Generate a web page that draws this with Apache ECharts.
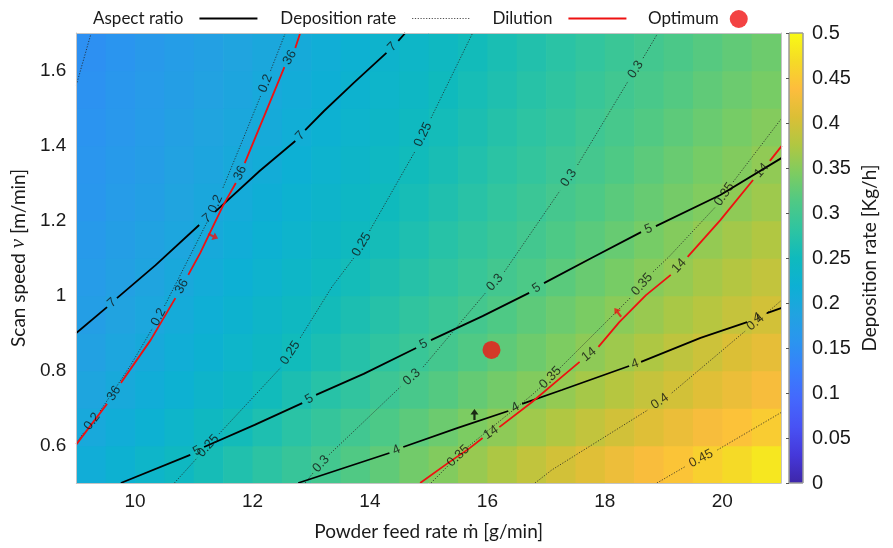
<!DOCTYPE html>
<html><head><meta charset="utf-8">
<script src="https://cdn.jsdelivr.net/npm/echarts@6/dist/echarts.min.js"></script>
<style>html,body{margin:0;padding:0;background:#fff}#c{width:893px;height:548px}</style>
</head><body><div id="c"></div>
<script>
// ---------------- data ----------------
const xTicks = [10, 12, 14, 16, 18, 20];
const yTicks = [0.6, 0.8, 1, 1.2, 1.4, 1.6];

// background field: deposition rate [kg/h] at cell centres
const heatX = [9.25,9.75,10.25,10.75,11.25,11.75,12.25,12.75,13.25,13.75,14.25,14.75,15.25,15.75,16.25,16.75,17.25,17.75,18.25,18.75,19.25,19.75,20.25,20.75];
const heatV = [0.55,0.65,0.75,0.85,0.95,1.05,1.15,1.25,1.35,1.45,1.55,1.65];
const r055 = [0.212,0.223,0.234,0.245,0.257,0.268,0.279,0.290,0.301,0.313,0.324,0.336,0.347,0.360,0.373,0.387,0.400,0.411,0.423,0.434,0.445,0.457,0.468,0.480];
const r065 = [0.201,0.212,0.222,0.233,0.244,0.254,0.265,0.277,0.288,0.299,0.310,0.321,0.332,0.343,0.354,0.365,0.376,0.388,0.399,0.410,0.421,0.432,0.443,0.453];
const r075 = [0.192,0.202,0.212,0.222,0.232,0.242,0.252,0.263,0.274,0.284,0.295,0.306,0.316,0.327,0.337,0.347,0.358,0.369,0.379,0.390,0.400,0.411,0.421,0.432];
const r085 = [0.184,0.194,0.203,0.213,0.223,0.233,0.242,0.252,0.262,0.272,0.282,0.292,0.302,0.313,0.323,0.333,0.344,0.354,0.364,0.374,0.385,0.395,0.406,0.416];
const r095 = [0.177,0.187,0.196,0.206,0.216,0.225,0.235,0.244,0.254,0.263,0.273,0.283,0.292,0.302,0.312,0.322,0.332,0.342,0.352,0.361,0.371,0.380,0.390,0.400];
const r105 = [0.172,0.181,0.191,0.200,0.209,0.218,0.227,0.237,0.246,0.255,0.264,0.273,0.282,0.291,0.301,0.310,0.320,0.330,0.340,0.350,0.359,0.369,0.378,0.388];
const r115 = [0.168,0.177,0.186,0.194,0.203,0.212,0.221,0.230,0.239,0.247,0.256,0.265,0.274,0.283,0.292,0.301,0.311,0.320,0.329,0.339,0.348,0.358,0.367,0.376];
const r125 = [0.163,0.172,0.180,0.189,0.198,0.206,0.215,0.224,0.232,0.241,0.250,0.258,0.267,0.276,0.285,0.294,0.303,0.311,0.320,0.329,0.338,0.346,0.355,0.364];
const r135 = [0.160,0.168,0.176,0.185,0.193,0.202,0.210,0.218,0.227,0.235,0.243,0.252,0.260,0.269,0.278,0.286,0.295,0.303,0.312,0.321,0.330,0.339,0.347,0.356];
const r145 = [0.156,0.164,0.172,0.181,0.189,0.197,0.205,0.213,0.222,0.230,0.238,0.246,0.255,0.263,0.272,0.280,0.288,0.297,0.305,0.314,0.322,0.331,0.339,0.348];
const r155 = [0.154,0.162,0.170,0.178,0.185,0.193,0.201,0.209,0.217,0.225,0.233,0.241,0.250,0.258,0.266,0.274,0.282,0.291,0.299,0.307,0.315,0.324,0.332,0.340];
const r165 = [0.151,0.159,0.167,0.174,0.182,0.189,0.197,0.205,0.213,0.221,0.229,0.237,0.245,0.253,0.261,0.269,0.277,0.285,0.293,0.301,0.309,0.317,0.325,0.333];
const heatRows = [r055,r065,r075,r085,r095,r105,r115,r125,r135,r145,r155,r165];

// contour polylines [feed rate, scan speed]; a string marks a label sitting in the gap
const aspect7 = [
  [[9.000,0.900],[9.523,0.969]], '7',
  [[9.692,0.993],[10.350,1.081],[11.092,1.188]], '7',
  [[11.362,1.223],[12.121,1.332],[12.729,1.412]], '7',
  [[12.897,1.441],[13.218,1.492],[13.724,1.567],[14.281,1.647]], '7',
  [[14.483,1.679],[14.602,1.700]]
];
const aspect5 = [
  [[9.759,0.500],[10.940,0.575]], '5',
  [[11.176,0.596],[12.037,0.655],[12.847,0.713]], '5',
  [[13.083,0.735],[13.893,0.791],[14.787,0.860]], '5',
  [[15.040,0.881],[15.918,0.945],[16.711,1.007]], '5',
  [[16.964,1.033],[17.773,1.100],[18.617,1.169]], '5',
  [[18.870,1.185],[19.967,1.268],[21.013,1.367]]
];
const aspect4 = [
  [[12.779,0.500],[13.555,0.540],[14.332,0.580]], '4',
  [[14.568,0.596],[15.496,0.647],[16.356,0.692]], '4',
  [[16.592,0.711],[17.267,0.748],[18.414,0.812]], '4',
  [[18.617,0.823],[19.630,0.887],[20.423,0.929]], '4',
  [[20.760,0.953],[21.013,0.967]]
];
const dilution36 = [
  [[9.000,0.603],[9.523,0.711]], '36',
  [[9.759,0.767],[10.265,0.881],[10.687,0.993]], '36',
  [[10.907,1.055],[11.109,1.113],[11.379,1.201],[11.497,1.239],[11.716,1.300]], '36',
  [[11.868,1.353],[12.206,1.481],[12.543,1.609]], '36',
  [[12.729,1.660],[12.813,1.700]]
];
const dilution14 = [
  [[14.855,0.500],[15.327,0.553],[15.698,0.593],[15.918,0.620]], '14',
  [[16.204,0.649],[16.761,0.716],[17.267,0.783],[17.571,0.823]], '14',
  [[17.891,0.863],[18.246,0.929],[18.701,1.001],[19.123,1.055]], '14',
  [[19.410,1.103],[19.967,1.201],[20.524,1.308]], '14',
  [[20.811,1.359],[21.013,1.399]]
];
const dep015 = [
  [[9.000,1.561],[9.253,1.700]]
];
const dep020 = [
  [[9.000,0.607],[9.135,0.636]], '0.2',
  [[9.405,0.692],[9.591,0.735],[9.928,0.815],[10.299,0.913]], '0.2',
  [[10.502,0.972],[10.856,1.081],[11.244,1.201]], '0.2',
  [[11.497,1.287],[11.834,1.415],[12.138,1.532]], '0.2',
  [[12.307,1.599],[12.560,1.700]]
];
const dep025 = [
  [[10.670,0.500],[11.058,0.567]], '0.25',
  [[11.430,0.631],[12.476,0.807]], '0.25',
  [[12.813,0.887],[13.353,1.023],[13.724,1.100]], '0.25',
  [[13.994,1.172],[14.770,1.385]], '0.25',
  [[15.040,1.473],[15.749,1.700]]
];
const dep030 = [
  [[12.897,0.500],[13.032,0.527]], '0.3',
  [[13.302,0.575],[14.517,0.756]], '0.3',
  [[14.905,0.809],[15.968,1.007]], '0.3',
  [[16.289,1.063],[16.542,1.121],[17.234,1.279]], '0.3',
  [[17.537,1.348],[18.398,1.572]], '0.3',
  [[18.651,1.633],[18.904,1.700]]
];
const dep035 = [
  [[15.040,0.500],[15.344,0.548]], '0.35',
  [[15.664,0.596],[16.761,0.735],[16.947,0.761]], '0.35',
  [[17.200,0.801],[18.448,0.996]], '0.35',
  [[18.820,1.063],[19.090,1.103],[19.883,1.236]], '0.35',
  [[20.186,1.303],[21.013,1.473]]
];
const dep040 = [
  [[16.812,0.500],[17.099,0.535],[18.735,0.695]], '0.4',
  [[19.140,0.740],[20.389,0.905]], '0.4',
  [[20.743,0.951],[21.013,0.988]]
];
const dep045 = [
  [[18.887,0.500],[19.360,0.543]], '0.45',
  [[19.916,0.588],[21.013,0.689]]
];
const optimum = [[16.07, 0.855]];
const redArrows = [[11.33, 1.158], [18.22, 0.955]];
const blackArrows = [[15.78, 0.683]];

// ---------------- styles ----------------
const PARULA = ['#3E26A8','#4538DA','#4852F4','#4468FD','#387EFC','#2B94F0','#21A3E0','#0DB0D4',
  '#0FBABD','#2EC4A1','#4FC985','#7DCC61','#B0C742','#DBBF36','#FDBD3D','#F5DB26','#F9FB14'];
const F_TXT = "Lato, 'Open Sans', sans-serif";
const F_NUM = "'Liberation Sans', Arial, sans-serif";
const TXT = '#1a1a1a';
const STY = {
  aspect: {color:'#000', width:1.8, type:'solid'},
  dep: {color:'#222', width:0.8, type:[1.2, 1.6]},
  dil: {color:'#ee1111', width:1.8, type:'solid'}
};
const ARROW = 'path://M0,0 L5,6 L1.4,6 L1.4,12 L-1.4,12 L-1.4,6 L-5,6 Z';

const contours = [
  {p: aspect7, name:'Aspect ratio', s: STY.aspect},
  {p: aspect5, name:'Aspect ratio', s: STY.aspect},
  {p: aspect4, name:'Aspect ratio', s: STY.aspect},
  {p: dep015, name:'Deposition rate', s: STY.dep},
  {p: dep020, name:'Deposition rate', s: STY.dep},
  {p: dep025, name:'Deposition rate', s: STY.dep},
  {p: dep030, name:'Deposition rate', s: STY.dep},
  {p: dep035, name:'Deposition rate', s: STY.dep},
  {p: dep040, name:'Deposition rate', s: STY.dep},
  {p: dep045, name:'Deposition rate', s: STY.dep},
  {p: dilution36, name:'Dilution', s: STY.dil},
  {p: dilution14, name:'Dilution', s: STY.dil}
];

// ---------------- build ----------------
const heatData = [];
heatRows.forEach((row, j) => row.forEach((val, i) => heatData.push([heatX[i], heatV[j], val])));
const hdx = (heatX[1] - heatX[0]) / 2, hdv = (heatV[1] - heatV[0]) / 2;

const series = [];
series.push({
  type:'custom', name:'field', xAxisIndex:0, yAxisIndex:0, data: heatData, z:1, silent:true, clip:true,
  encode:{x:0, y:1},
  renderItem: (params, api) => {
    const x = api.value(0), v = api.value(1);
    const p0 = api.coord([x - hdx, v + hdv]);
    const p1 = api.coord([x + hdx, v - hdv]);
    return {type:'rect', shape:{x:p0[0], y:p0[1], width:p1[0]-p0[0]+0.7, height:p1[1]-p0[1]+0.7},
      style:{fill: api.visual('color')}};
  }
});
// colour bar
series.push({
  type:'custom', xAxisIndex:2, yAxisIndex:2, data:[[0, 0.5]], z:1, silent:true,
  renderItem: (params, api) => {
    const p0 = api.coord([0, 0.5]);
    const p1 = api.coord([1, 0]);
    const stops = PARULA.map((c, k) => ({offset: k / (PARULA.length - 1), color: c}));
    return {type:'rect', shape:{x:p0[0], y:p0[1], width:p1[0]-p0[0], height:p1[1]-p0[1]},
      style:{fill: new echarts.graphic.LinearGradient(0, 1, 0, 0, stops), stroke:'#9a9a9a', lineWidth:1}};
  }
});
const labelList = [];
contours.forEach(c => {
  c.p.forEach((piece, i) => {
    if (typeof piece === 'string') {
      const a = c.p[i - 1], b = c.p[i + 1];
      labelList.push({text: piece, a: a[a.length - 1], b: b[0]});
    } else {
      series.push({type:'line', name:c.name, data: piece, symbol:'none', showSymbol:false,
        lineStyle: c.s, itemStyle:{color: c.s.color}, z:3, silent:true, clip:true, animation:false});
    }
  });
});
series.push({type:'scatter', name:'Optimum', data: optimum, symbol:'circle', symbolSize:18,
  itemStyle:{color:'#f01414'}, z:6, silent:true});
series.push({type:'scatter', data: redArrows.map((p, k) => ({value:p, symbolRotate: k === 0 ? -115 : 38})),
  symbol: ARROW, symbolSize:[8, 11], itemStyle:{color:'#ee1111'}, z:6, silent:true});
series.push({type:'scatter', data: blackArrows, symbol: ARROW, symbolSize:[8, 11],
  itemStyle:{color:'#000'}, z:6, silent:true});

const option = {
  animation:false,
  backgroundColor:'#fff',
  grid:[{left:70, top:33, width:711, height:450, containLabel:false},
        {left:789, top:33, width:14, height:450, containLabel:false}],
  legend:[
    {left:88, top:5, align:'right', itemWidth:58, itemHeight:16, itemGap:22, selectedMode:false,
     itemStyle:{opacity:0, borderWidth:0},
     data:[{name:'Aspect ratio', lineStyle:{width:1.8}},
           {name:'Deposition rate', lineStyle:{width:0.8}},
           {name:'Dilution', lineStyle:{width:1.8}}],
     textStyle:{fontFamily:F_TXT, fontSize:17, color:TXT, padding:[0, 11, 0, 0]}},
    {left:643, top:5, align:'right', itemWidth:18, itemHeight:18, selectedMode:false,
     data:[{name:'Optimum', icon:'circle'}],
     textStyle:{fontFamily:F_TXT, fontSize:17, color:TXT, padding:[0, 6, 0, 0]}}
  ],
  visualMap:{type:'continuous', show:false, min:0, max:0.5, dimension:2, seriesIndex:0,
    inRange:{color: PARULA}},
  xAxis:[
    {type:'value', gridIndex:0, min:9, max:21, position:'bottom', z:10,
     axisLine:{show:true, onZero:false, lineStyle:{color:'#c4c4c4', width:1}},
     axisTick:{show:false}, splitLine:{show:false},
     axisLabel:{customValues:xTicks, fontFamily:F_NUM, fontSize:19, color:TXT, margin:9},
     name:'Powder feed rate ṁ [g/min]', nameLocation:'middle', nameGap:39,
     nameTextStyle:{fontFamily:F_TXT, fontSize:19, color:TXT}},
    {type:'value', gridIndex:0, min:9, max:21, position:'top', z:10,
     axisLine:{show:true, onZero:false, lineStyle:{color:'#c4c4c4', width:1}},
     axisTick:{show:false}, axisLabel:{show:false}, splitLine:{show:false}},
    {type:'value', gridIndex:1, min:0, max:1, show:false}
  ],
  yAxis:[
    {type:'value', gridIndex:0, min:0.5, max:1.7, position:'left', z:10,
     axisLine:{show:true, onZero:false, lineStyle:{color:'#c4c4c4', width:1}},
     axisTick:{show:false}, splitLine:{show:false},
     axisLabel:{customValues:yTicks, fontFamily:F_NUM, fontSize:19, color:TXT, margin:10},
     name:'Scan speed {i|v} [m/min]', nameLocation:'middle', nameGap:42, nameRotate:90,
     nameTextStyle:{fontFamily:F_TXT, fontSize:19, color:TXT,
       rich:{i:{fontFamily:"'Liberation Serif', serif", fontStyle:'italic', fontSize:21, color:TXT}}}},
    {type:'value', gridIndex:0, min:0.5, max:1.7, position:'right', z:10,
     axisLine:{show:true, onZero:false, lineStyle:{color:'#c4c4c4', width:1}},
     axisTick:{show:false}, axisLabel:{show:false}, splitLine:{show:false}},
    {type:'value', gridIndex:1, min:0, max:0.5, interval:0.05, position:'right', z:10,
     axisLine:{show:false}, splitLine:{show:false},
     axisTick:{show:true, inside:true, length:3, lineStyle:{color:'#555'}},
     axisLabel:{fontFamily:F_NUM, fontSize:20, color:TXT, margin:9},
     name:'Deposition rate [Kg/h]', nameLocation:'middle', nameGap:57, nameRotate:90,
     nameTextStyle:{fontFamily:F_TXT, fontSize:19, color:TXT}}
  ],
  series: series
};

const chart = echarts.init(document.getElementById('c'), null, {width:893, height:548});
chart.setOption(option);

// contour labels, rotated along the local line direction
const labelData = labelList.map(l => {
  const pa = chart.convertToPixel({xAxisIndex:0, yAxisIndex:0}, l.a);
  const pb = chart.convertToPixel({xAxisIndex:0, yAxisIndex:0}, l.b);
  let ang = Math.atan2(-(pb[1] - pa[1]), pb[0] - pa[0]) * 180 / Math.PI;
  if (ang > 90) ang -= 180;
  if (ang < -90) ang += 180;
  return {value:[(l.a[0] + l.b[0]) / 2, (l.a[1] + l.b[1]) / 2],
    label:{rotate: ang, formatter: l.text}};
});
series.push({type:'scatter', data: labelData, symbol:'circle', symbolSize:1,
  itemStyle:{color:'rgba(0,0,0,0)'}, z:8, silent:true,
  label:{show:true, position:'inside', fontFamily:F_NUM, fontSize:13, color:'#111'}});
chart.setOption({series: series});
</script>
</body></html>
